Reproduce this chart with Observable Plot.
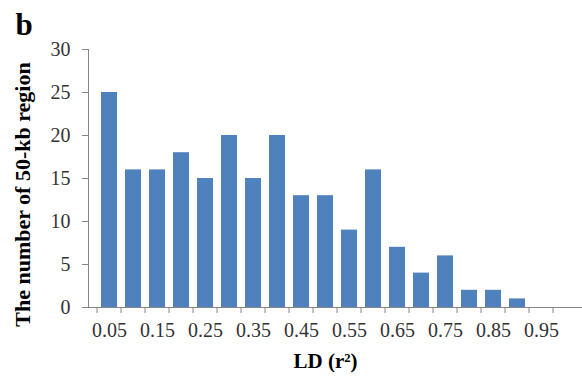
<!DOCTYPE html>
<html>
<head>
<meta charset="utf-8">
<script src="https://cdn.jsdelivr.net/npm/d3@7"></script>
<script src="https://cdn.jsdelivr.net/npm/@observablehq/plot@0.6"></script>
<style>
  html, body { margin: 0; padding: 0; background: #fff; }
</style>
</head>
<body>
<div id="chart"></div>
<script>
const ldBins = ["0.05","0.10","0.15","0.20","0.25","0.30","0.35","0.40","0.45","0.50",
                "0.55","0.60","0.65","0.70","0.75","0.80","0.85","0.90","0.95","1.00"];
const regionCounts = [25,16,16,18,15,20,15,20,13,13,9,16,7,4,6,2,2,1,0,0];
const xTickLabels = ["0.05","0.15","0.25","0.35","0.45","0.55","0.65","0.75","0.85","0.95"];
const yTicks = [0,5,10,15,20,25,30];
const panelLetter = "b";
const xTitle = "LD (r²)";
const yTitle = "The number of 50-kb region";

const data = ldBins.map((bin, i) => ({bin, count: regionCounts[i]}));

const chart = Plot.plot({
  width: 582,
  height: 376,
  marginLeft: 88,
  marginRight: 0,
  marginTop: 49,
  marginBottom: 69,
  style: {fontFamily: "'Liberation Serif', 'Times New Roman', serif", fontSize: "20px", background: "#fff"},
  x: {type: "band", domain: ldBins, range: [88, 586], paddingInner: 0.32, paddingOuter: 0.16, axis: null},
  y: {domain: [0, 30], axis: null},
  marks: [
    Plot.barY(data, {x: "bin", y: "count", fill: "#4F81BD"}),
    Plot.frame({anchor: "left", stroke: "#868686"}),
    Plot.ruleY([0], {stroke: "#868686"}),
    Plot.ruleX(ldBins, {x: d => d, y1: 0, y2: 0, insetBottom: -6, dx: -12.45, stroke: "#868686"}),
    Plot.axisX(xTickLabels, {tickSize: 0, tickPadding: 15, fontSize: 20, fill: "#333", label: null}),
    Plot.axisY(yTicks, {tickSize: 6, tickPadding: 12, fontSize: 20, stroke: "#868686", fill: "#333", label: null}),
    Plot.text([yTitle], {frameAnchor: "left", text: d => d, rotate: -90, dx: -66, dy: 16,
      textAnchor: "middle", lineAnchor: "middle",
      fontSize: 22, fontWeight: "bold", fill: "#000"}),
    Plot.text([xTitle], {frameAnchor: "bottom", text: d => d, dx: -10, dy: 54,
      textAnchor: "middle", lineAnchor: "middle",
      fontSize: 21, fontWeight: "bold", fill: "#000"}),
    Plot.text([panelLetter], {frameAnchor: "top-left", text: d => d, textAnchor: "start", lineAnchor: "bottom",
      dx: -73, dy: -15, fontSize: 31, fontWeight: "bold", fill: "#000"})
  ]
});
document.getElementById("chart").appendChild(chart);
</script>
</body>
</html>
